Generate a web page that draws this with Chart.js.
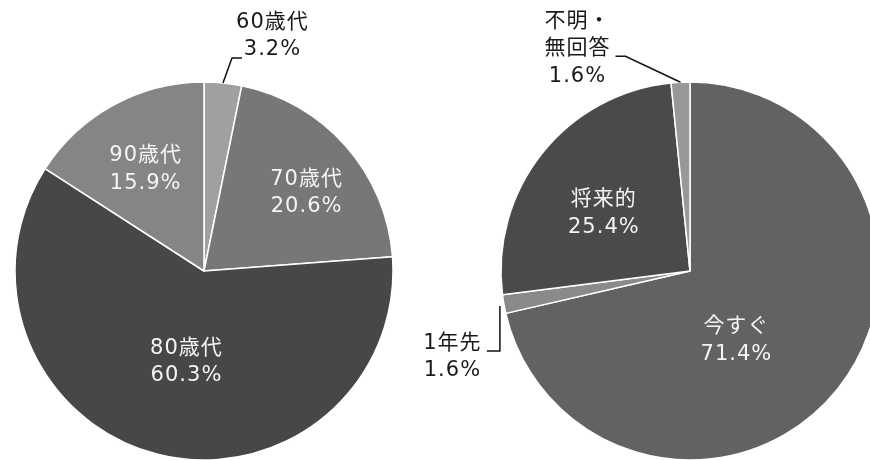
<!DOCTYPE html>
<html lang="ja">
<head>
<meta charset="utf-8">
<title>年代と時期の構成比</title>
<script src="https://cdn.jsdelivr.net/npm/chart.js@4/dist/chart.umd.min.js"></script>
<style>
  html, body { margin: 0; padding: 0; background: #ffffff; overflow: hidden; }
  #wrap { position: relative; width: 870px; height: 460px; }
  #wrap canvas { position: absolute; left: 0; top: 0; }
</style>
</head>
<body>
<div id="wrap">
  <canvas id="agePie" width="870" height="460"></canvas>
  <canvas id="timingPie" width="870" height="460"></canvas>
</div>
<script>
// 年代別の構成比（%）
const ageLabels = ['60歳代', '70歳代', '80歳代', '90歳代'];
const ageShares = [3.2, 20.6, 60.3, 15.9];
const ageColors = ['#a0a0a0', '#777777', '#474747', '#858585'];

// 時期別の構成比（%）
const timingLabels = ['今すぐ', '1年先', '将来的', ['不明・', '無回答']];
const timingShares = [71.4, 1.6, 25.4, 1.6];
const timingColors = ['#626262', '#8a8a8a', '#4a4a4a', '#989898'];

const LABEL_FONT = '21px "DejaVu Sans", "Noto Sans CJK JP", sans-serif';

// Draws the category name and share of each slice, either inside the
// slice or outside with an elbowed leader line.
const sliceText = {
  id: 'sliceText',
  afterDatasetsDraw(chart, args, opts) {
    const ctx = chart.ctx;
    const meta = chart.getDatasetMeta(0);
    const values = chart.data.datasets[0].data;
    meta.data.forEach((arc, i) => {
      const place = opts.place[i];
      const { x, y, startAngle, endAngle, outerRadius } =
        arc.getProps(['x', 'y', 'startAngle', 'endAngle', 'outerRadius'], true);
      const mid = (startAngle + endAngle) / 2;
      const lines = [].concat(chart.data.labels[i], values[i].toFixed(1) + '%');
      let cx, cy;
      ctx.save();
      if (place.leader) {
        const ox = x + Math.cos(mid) * outerRadius;
        const oy = y + Math.sin(mid) * outerRadius;
        ctx.beginPath();
        place.leader.forEach(([dx, dy], k) => {
          if (k === 0) ctx.moveTo(ox + dx, oy + dy);
          else ctx.lineTo(ox + dx, oy + dy);
        });
        ctx.strokeStyle = opts.leaderColor;
        ctx.lineWidth = 1.5;
        ctx.stroke();
        cx = ox + place.text[0];
        cy = oy + place.text[1];
        ctx.fillStyle = opts.outerColor;
      } else {
        const a = mid + place.shift * Math.PI / 180;
        cx = x + Math.cos(a) * outerRadius * place.r;
        cy = y + Math.sin(a) * outerRadius * place.r;
        ctx.fillStyle = opts.innerColor;
      }
      ctx.font = LABEL_FONT;
      ctx.letterSpacing = opts.letterSpacing + 'px';
      ctx.textAlign = 'center';
      ctx.textBaseline = 'middle';
      const top = cy - (lines.length - 1) * opts.lineHeight / 2;
      lines.forEach((t, k) => ctx.fillText(t, cx + opts.letterSpacing / 2, top + k * opts.lineHeight));
      ctx.restore();
    });
  }
};

function pieChart(id, labels, shares, colors, padding, place) {
  return new Chart(document.getElementById(id), {
    type: 'pie',
    data: {
      labels: labels,
      datasets: [{
        data: shares,
        backgroundColor: colors,
        borderColor: '#ffffff',
        borderWidth: 1.5,
        radius: 189,
        clip: false
      }]
    },
    options: {
      responsive: false,
      animation: false,
      events: [],
      layout: { padding: padding },
      plugins: {
        legend: { display: false },
        tooltip: { enabled: false },
        sliceText: {
          place: place,
          lineHeight: 27.5,
          letterSpacing: 1,
          innerColor: '#f4f4f4',
          outerColor: '#1a1a1a',
          leaderColor: '#111111'
        }
      }
    },
    plugins: [sliceText]
  });
}

pieChart('agePie', ageLabels, ageShares, ageColors,
  { left: 0, right: 462, top: 82, bottom: 0 },
  [
    { leader: [[0, 0], [9, -25], [19, -25]], text: [49, -47] },
    { r: 0.68, shift: 4 },
    { r: 0.49, shift: -3 },
    { r: 0.62, shift: -1.5 }
  ]);

pieChart('timingPie', timingLabels, timingShares, timingColors,
  { left: 510, right: 0, top: 82, bottom: 0 },
  [
    { r: 0.44, shift: 18 },
    { leader: [[-4, 2], [-4, 47], [-17, 47]], text: [-52, 53] },
    { r: 0.55, shift: -5 },
    { leader: [[0, 0], [-55, -26], [-65, -26]], text: [-103.5, -33.5] }
  ]);
</script>
</body>
</html>
